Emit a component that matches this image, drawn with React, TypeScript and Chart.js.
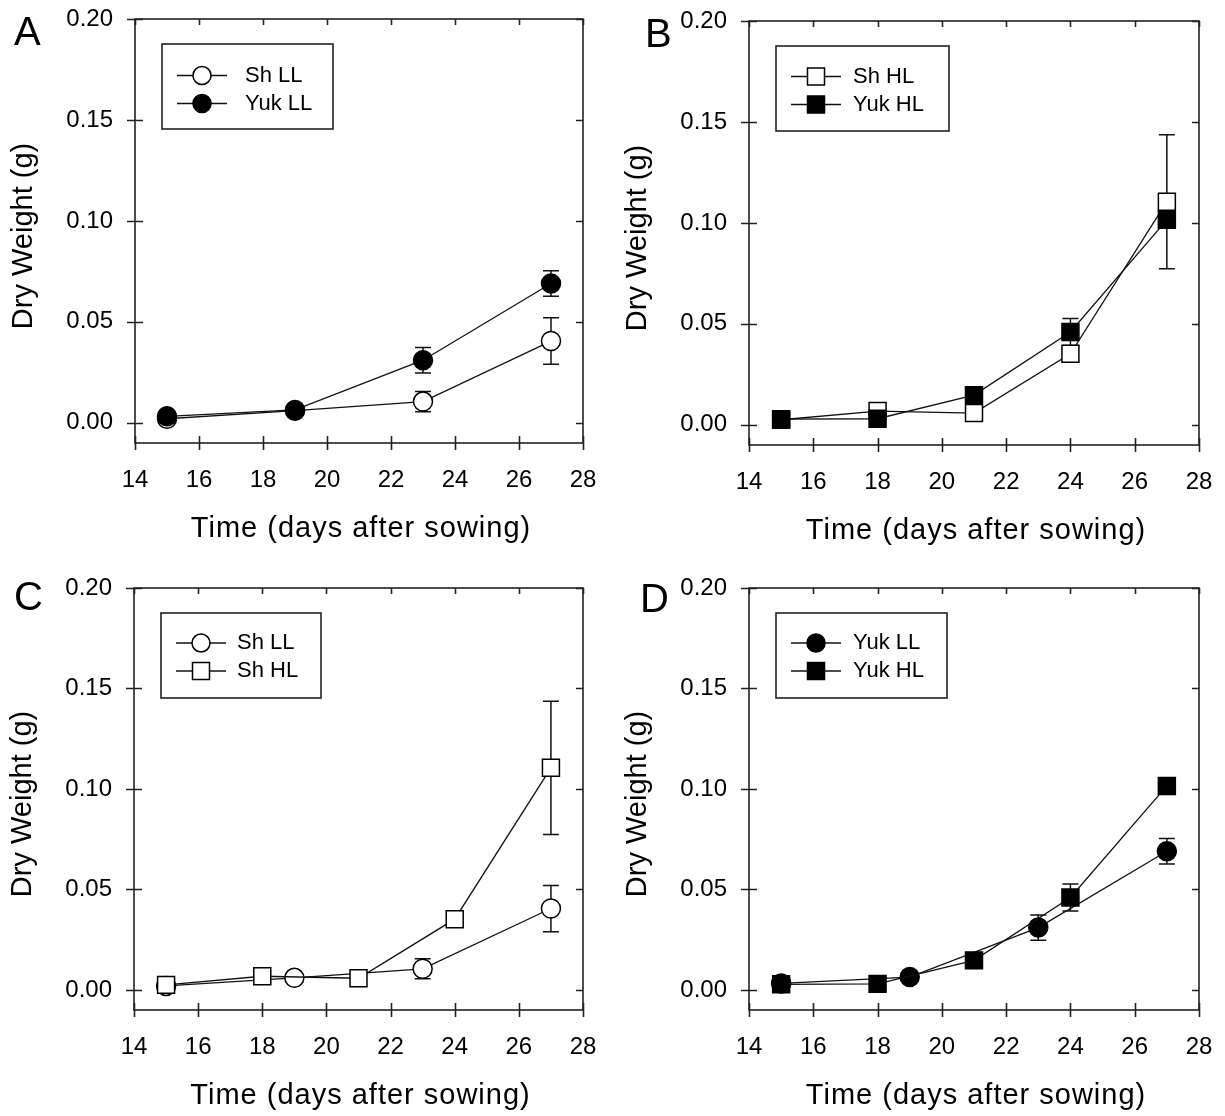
import React, { useEffect, useRef } from "react";
import { Chart, registerables } from "chart.js";
Chart.register(...registerables);

// ---------- data ----------
const xTickValues = [14, 16, 18, 20, 22, 24, 26, 28];
const yTickValues = [0, 0.05, 0.1, 0.15, 0.2];

const daysLL = [15, 19, 23, 27];
const daysHL = [15, 18, 21, 24, 27];

const shLL = [0.002, 0.006, 0.0105, 0.0405];
const shLLErr = [0.0008, 0.001, 0.005, 0.0115];
const yukLL = [0.0032, 0.0064, 0.031, 0.069];
const yukLLErr = [0.001, 0.001, 0.0063, 0.0063];
const shHL = [0.0025, 0.0068, 0.0058, 0.0352, 0.1105];
const shHLErr = [0.0005, 0.001, 0.001, 0.002, 0.0332];
const yukHL = [0.0028, 0.003, 0.0147, 0.046, 0.1015];
const yukHLErr = [0.0005, 0.001, 0.002, 0.0067, 0.004];

const panelLetters = ["A", "B", "C", "D"];
const xTitle = "Time (days after sowing)";
const yTitle = "Dry Weight (g)";

// ---------- series ----------
type Series = { label: string; x: number[]; y: number[]; err: number[]; shape: "circle" | "rect"; filled: boolean };
const S_ShLL: Series = { label: "Sh LL", x: daysLL, y: shLL, err: shLLErr, shape: "circle", filled: false };
const S_YukLL: Series = { label: "Yuk LL", x: daysLL, y: yukLL, err: yukLLErr, shape: "circle", filled: true };
const S_ShHL: Series = { label: "Sh HL", x: daysHL, y: shHL, err: shHLErr, shape: "rect", filled: false };
const S_YukHL: Series = { label: "Yuk HL", x: daysHL, y: yukHL, err: yukHLErr, shape: "rect", filled: true };

const FONT = "'Liberation Sans', Arial, sans-serif";
const INK = "#111";

type PanelCfg = {
  letter: string;
  legend: Series[];
  draw: Series[]; // first is drawn on top
  x: number; y: number; w: number; h: number;
  area: { l: number; r: number; t: number; b: number };
  letterPos: [number, number];
  legendW: number;
  legendTextDx: number;
  legendRowDy: number;
};

const panels: PanelCfg[] = [
  { letter: panelLetters[0], legend: [S_ShLL, S_YukLL], draw: [S_YukLL, S_ShLL], x: 0, y: 0, w: 612, h: 558,
    area: { l: 135, r: 583, t: 19, b: 443 }, letterPos: [14, 45], legendW: 171, legendTextDx: 83, legendRowDy: 31.5 },
  { letter: panelLetters[1], legend: [S_ShHL, S_YukHL], draw: [S_YukHL, S_ShHL], x: 612, y: 0, w: 613, h: 558,
    area: { l: 137, r: 587, t: 21, b: 445 }, letterPos: [33, 47], legendW: 173, legendTextDx: 77, legendRowDy: 30.5 },
  { letter: panelLetters[2], legend: [S_ShLL, S_ShHL], draw: [S_ShHL, S_ShLL], x: 0, y: 558, w: 612, h: 558,
    area: { l: 134, r: 583, t: 30, b: 452 }, letterPos: [14, 52], legendW: 160, legendTextDx: 76, legendRowDy: 30 },
  { letter: panelLetters[3], legend: [S_YukLL, S_YukHL], draw: [S_YukHL, S_YukLL], x: 612, y: 558, w: 613, h: 558,
    area: { l: 137, r: 587, t: 30, b: 452 }, letterPos: [28, 54], legendW: 171, legendTextDx: 77, legendRowDy: 30 },
];

function drawMarker(ctx: CanvasRenderingContext2D, s: Series, cx: number, cy: number) {
  ctx.save();
  ctx.lineWidth = 1.5;
  ctx.strokeStyle = "#000";
  ctx.fillStyle = s.filled ? "#000" : "#fff";
  ctx.beginPath();
  if (s.shape === "circle") ctx.arc(cx, cy, 9, 0, Math.PI * 2);
  else ctx.rect(cx - 8.5, cy - 8.5, 17, 17);
  ctx.fill();
  ctx.stroke();
  ctx.restore();
}

function makeDecor(cfg: PanelCfg) {
  return {
    id: "decor" + cfg.letter,
    beforeDatasetsDraw(chart: any) {
      const ctx: CanvasRenderingContext2D = chart.ctx;
      const xs = chart.scales.x, ys = chart.scales.y;
      ctx.save();
      ctx.strokeStyle = INK;
      ctx.lineWidth = 1.5;
      cfg.draw.forEach((s) => {
        s.x.forEach((xv, i) => {
          const e = s.err[i];
          if (!e) return;
          const px = xs.getPixelForValue(xv);
          const y1 = ys.getPixelForValue(s.y[i] + e);
          const y2 = ys.getPixelForValue(s.y[i] - e);
          ctx.beginPath();
          ctx.moveTo(px, y1); ctx.lineTo(px, y2);
          ctx.moveTo(px - 8, y1); ctx.lineTo(px + 8, y1);
          ctx.moveTo(px - 8, y2); ctx.lineTo(px + 8, y2);
          ctx.stroke();
        });
      });
      ctx.restore();
    },
    afterDraw(chart: any) {
      const ctx: CanvasRenderingContext2D = chart.ctx;
      const a = chart.chartArea;
      const xs = chart.scales.x, ys = chart.scales.y;
      ctx.save();
      // frame
      ctx.strokeStyle = "#222";
      ctx.lineWidth = 1.6;
      ctx.strokeRect(a.left, a.top, a.right - a.left, a.bottom - a.top);
      ctx.beginPath();
      yTickValues.forEach((v) => {
        const py = Math.round(ys.getPixelForValue(v)) + 0.5;
        ctx.moveTo(a.left - 8, py); ctx.lineTo(a.left + 8, py);
        ctx.moveTo(a.right - 7, py); ctx.lineTo(a.right, py);
      });
      xTickValues.forEach((v) => {
        const px = Math.round(xs.getPixelForValue(v)) + 0.5;
        ctx.moveTo(px, a.bottom - 7); ctx.lineTo(px, a.bottom + 7);
        ctx.moveTo(px, a.top); ctx.lineTo(px, a.top + 6);
      });
      ctx.stroke();

      // axis titles
      ctx.fillStyle = "#000";
      ctx.font = `29px ${FONT}`;
      ctx.textAlign = "center";
      ctx.textBaseline = "middle";
      try { (ctx as any).letterSpacing = "1px"; } catch (e) {}
      ctx.fillText(xTitle, (a.left + a.right) / 2 + 2, a.bottom + 86);
      try { (ctx as any).letterSpacing = "0px"; } catch (e) {}
      ctx.save();
      ctx.translate(a.left - 111, (a.top + a.bottom) / 2 + 5);
      ctx.rotate(-Math.PI / 2);
      ctx.fillText(yTitle, 0, 0);
      ctx.restore();

      // panel letter
      ctx.font = `40px ${FONT}`;
      ctx.textAlign = "left";
      ctx.textBaseline = "alphabetic";
      ctx.fillText(cfg.letter, cfg.letterPos[0], cfg.letterPos[1]);

      // legend
      const bx = a.left + 27, by = a.top + 25, bw = cfg.legendW, bh = 85;
      ctx.fillStyle = "#fff";
      ctx.fillRect(bx, by, bw, bh);
      ctx.strokeStyle = "#222";
      ctx.lineWidth = 1.6;
      ctx.strokeRect(bx, by, bw, bh);
      cfg.legend.forEach((s, i) => {
        const ry = by + cfg.legendRowDy + i * 28;
        ctx.strokeStyle = INK;
        ctx.lineWidth = 1.3;
        ctx.beginPath();
        ctx.moveTo(bx + 15, ry); ctx.lineTo(bx + 65, ry);
        ctx.stroke();
        drawMarker(ctx, s, bx + 40, ry);
        ctx.fillStyle = "#000";
        ctx.font = `22px ${FONT}`;
        ctx.textAlign = "left";
        ctx.textBaseline = "middle";
        ctx.fillText(s.label, bx + cfg.legendTextDx, ry);
      });
      ctx.restore();
    },
  };
}

function Panel({ cfg }: { cfg: PanelCfg }) {
  const ref = useRef<HTMLCanvasElement>(null);
  useEffect(() => {
    if (!ref.current) return;
    const { area, w, h } = cfg;
    const chart = new Chart(ref.current, {
      type: "scatter",
      data: {
        datasets: cfg.draw.map((s) => ({
          label: s.label,
          data: s.x.map((xv, i) => ({ x: xv, y: s.y[i] })),
          showLine: true,
          borderColor: INK,
          borderWidth: 1.3,
          tension: 0,
          pointStyle: s.shape === "circle" ? "circle" : "rect",
          pointRadius: s.shape === "circle" ? 9.5 : 12,
          pointBackgroundColor: s.filled ? "#000" : "#fff",
          pointBorderColor: "#000",
          pointBorderWidth: 1.5,
        })),
      },
      options: {
        responsive: false,
        animation: false,
        layout: { padding: { left: 0, top: area.t, right: w - area.r, bottom: 0 } },
        plugins: { legend: { display: false }, tooltip: { enabled: false } },
        scales: {
          x: {
            type: "linear",
            min: 14,
            max: 28,
            afterFit: (s: any) => {
              s.height = h - area.b;
              s.paddingLeft = 0; s.paddingRight = 0;
            },
            afterBuildTicks: (s: any) => { s.ticks = xTickValues.map((v) => ({ value: v })); },
            grid: { display: false },
            border: { display: false },
            ticks: {
              autoSkip: false,
              maxRotation: 0,
              padding: 15,
              color: "#000",
              font: { family: FONT, size: 24 },
              callback: (v: any) => String(v),
            },
          },
          y: {
            type: "linear",
            min: -0.01,
            max: 0.2,
            afterFit: (s: any) => {
              s.width = area.l;
              s.paddingTop = 0; s.paddingBottom = 0;
            },
            afterBuildTicks: (s: any) => { s.ticks = yTickValues.map((v) => ({ value: v })); },
            grid: { display: false },
            border: { display: false },
            ticks: {
              padding: 14,
              color: "#000",
              font: { family: FONT, size: 24 },
              callback: (v: any) => Number(v).toFixed(2),
            },
          },
        },
      },
      plugins: [makeDecor(cfg)],
    } as any);
    return () => chart.destroy();
  }, [cfg]);
  return (
    <canvas
      ref={ref}
      width={cfg.w}
      height={cfg.h}
      style={{ position: "absolute", left: cfg.x, top: cfg.y, width: cfg.w, height: cfg.h }}
    />
  );
}

export default function App() {
  return (
    <div style={{ position: "absolute", left: 0, top: 0, width: 1225, height: 1116, background: "#fff" }}>
      {panels.map((p) => (
        <Panel key={p.letter} cfg={p} />
      ))}
    </div>
  );
}
